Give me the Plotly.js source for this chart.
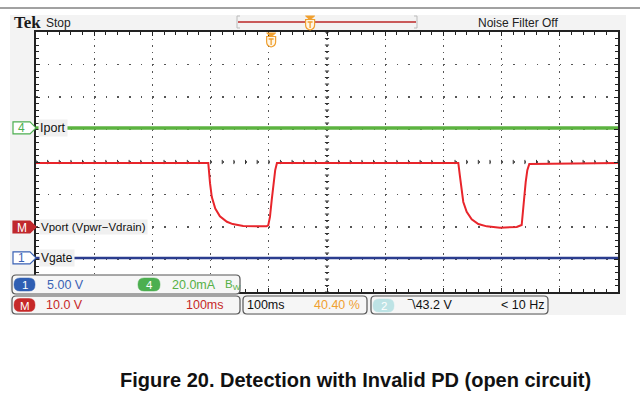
<!DOCTYPE html>
<html><head><meta charset="utf-8">
<script src="https://cdn.plot.ly/plotly-3.0.1.min.js"></script>
<style>html,body{margin:0;padding:0;background:#fff;}#chart{width:640px;height:394px;}</style>
</head><body><div id="chart"></div>
<script>
// ---- data (time in ms, 100 ms/div; levels in screen divisions) ----
const timeRangeMs = [0, 1000];
const divRange = [-4, 4];
const vportTimeMs = [0, 296, 299, 302, 308, 316, 328, 338, 356, 376, 396, 399, 402, 405, 408, 411, 414,
  725.6, 728.5, 731.4, 734.2, 740, 748.6, 760, 774.4, 797.3, 826, 834.5, 836.2, 838.5, 841.4, 844.2, 847.6, 1000];
const vportDiv = [-0.03, -0.03, -0.65, -1.07, -1.43, -1.67, -1.84, -1.91, -1.97, -1.98, -1.98, -1.95, -1.69, -1.17, -0.65, -0.25, -0.03,
  -0.03, -0.45, -0.86, -1.23, -1.53, -1.76, -1.91, -1.98, -2.02, -2.0, -1.94, -1.69, -1.17, -0.62, -0.25, -0.06, -0.03];
const iportTimeMs = [0, 1000];
const iportDiv = [1.05, 1.05];
const vgateTimeMs = [0, 1000];
const vgateDiv = [-2.95, -2.95];
const refLevelDiv = {iport: 1.05, vport: -2.0, vgate: -2.95};
const channelLabels = ['Iport', 'Vport (Vpwr\u2212Vdrain)', 'Vgate'];
const triggerPosPct = 40.40;
const statusTexts = {ch1: '5.00 V', ch4: '20.0mA', bw: 'B<sub>W</sub>', math: '10.0 V', mathTime: '100ms',
  timebase: '100ms', trigPos: '40.40 %', trigLevel: '\u203E\\43.2 V', freq: '< 10 Hz'};
const caption = 'Figure 20. Detection with Invalid PD (open circuit)';

// ---- layout helpers (pixel -> paper) ----
const L = 36, R = 618, T = 32, B = 292;
const X = p => (p - L) / (R - L);
const Y = p => (B - p) / (B - T);
const yPix = d => T + (divRange[1] - d) / (divRange[1] - divRange[0]) * (B - T);
const xPixT = ms => L + ms / timeRangeMs[1] * (R - L);
function rr(x0, y0, x1, y1, r) {
  return `M${X(x0+r)},${Y(y0)} L${X(x1-r)},${Y(y0)} Q${X(x1)},${Y(y0)} ${X(x1)},${Y(y0+r)} L${X(x1)},${Y(y1-r)} Q${X(x1)},${Y(y1)} ${X(x1-r)},${Y(y1)} L${X(x0+r)},${Y(y1)} Q${X(x0)},${Y(y1)} ${X(x0)},${Y(y1-r)} L${X(x0)},${Y(y0+r)} Q${X(x0)},${Y(y0)} ${X(x0+r)},${Y(y0)} Z`;
}
function poly(pts) { return 'M' + pts.map(p => `${X(p[0])},${Y(p[1])}`).join(' L') + ' Z'; }
function pshape(path, fill, line, lw) {
  return {type: 'path', xref: 'paper', yref: 'paper', path, fillcolor: fill || 'rgba(0,0,0,0)',
    line: {color: line || 'rgba(0,0,0,0)', width: lw || 0}, layer: 'above'};
}
const FONT = 'Liberation Sans, Arial, sans-serif';
function txt(text, px, py, color, size, anchor, extra) {
  return Object.assign({text, xref: 'paper', yref: 'paper', x: X(px), y: Y(py), xanchor: anchor || 'left', yanchor: 'middle',
    showarrow: false, font: {family: FONT, size: size || 12, color: color || '#111'}}, extra || {});
}

const shapes = [];
const annotations = [];
// screen background
shapes.push(Object.assign(pshape(poly([[10,15],[626,15],[626,315],[10,315]]), '#f3f3f3'), {layer: 'below'}));
shapes.push(Object.assign(pshape(poly([[L,T],[R,T],[R,B],[L,B]]), '#ffffff'), {layer: 'below'}));
// top rule
shapes.push({type: 'line', xref: 'paper', yref: 'paper', x0: X(0), x1: X(640), y0: Y(8), y1: Y(8), line: {color: '#444', width: 1}});
// record bar
shapes.push({type: 'line', xref: 'paper', yref: 'paper', x0: X(238), x1: X(416), y0: Y(22), y1: Y(22), line: {color: '#c95a5a', width: 2}});
shapes.push(pshape(`M${X(240)},${Y(16)} L${X(237)},${Y(16)} L${X(237)},${Y(28)} L${X(240)},${Y(28)}`, null, '#bbbbbb', 1));
shapes.push(pshape(`M${X(414)},${Y(16)} L${X(417)},${Y(16)} L${X(417)},${Y(28)} L${X(414)},${Y(28)}`, null, '#bbbbbb', 1));
function trigMarker(cx, yt) {
  const orange = '#f0a030';
  shapes.push(pshape(poly([[cx-4.5,yt],[cx+4.5,yt],[cx,yt+4]]), orange, orange, 1));
  shapes.push(pshape(`M${X(cx-4.5)},${Y(yt+3.5)} L${X(cx+4.5)},${Y(yt+3.5)} L${X(cx+4.5)},${Y(yt+9)} Q${X(cx+4.5)},${Y(yt+13)} ${X(cx)},${Y(yt+14)} Q${X(cx-4.5)},${Y(yt+13)} ${X(cx-4.5)},${Y(yt+9)} Z`, '#fff6e6', orange, 1.2));
  shapes.push(pshape(`M${X(cx-2.5)},${Y(yt+6)} L${X(cx+2.5)},${Y(yt+6)} M${X(cx)},${Y(yt+6)} L${X(cx)},${Y(yt+12)}`, null, orange, 1.3));
}
// record-bar marker: trigger position within the 238..416 px record bar
trigMarker(238 + 0.405 * (416 - 238), 16);
trigMarker(xPixT(triggerPosPct / 100 * timeRangeMs[1]), 33);

// center crosshair ticks (graticule)
let hp = '', vp = '';
for (let i = 0; i <= 50; i++) hp += `M${i*20},-0.065 L${i*20},0.065 `;
for (let j = 0; j <= 40; j++) { const d = -4 + j * 0.2; vp += `M496.4,${d.toFixed(2)} L503.6,${d.toFixed(2)} `; }
shapes.push({type: 'path', xref: 'x', yref: 'y', path: hp, line: {color: '#333', width: 1}, layer: 'below'});
shapes.push({type: 'path', xref: 'x', yref: 'y', path: vp, line: {color: '#333', width: 1}, layer: 'below'});

// channel markers
function chanMarker(level, fill, line, label, textColor) {
  const yc = yPix(level);
  shapes.push(pshape(poly([[13,yc-6],[30,yc-6],[36,yc],[30,yc+6],[13,yc+6]]), fill, line, 1.2));
  annotations.push(txt(label, 21.5, yc + 0.5, textColor, 12, 'center'));
}
chanMarker(refLevelDiv.iport, '#ffffff', '#4caf50', '4', '#4caf50');
chanMarker(refLevelDiv.vport, '#c0282d', '#c0282d', 'M', '#ffffff');
chanMarker(refLevelDiv.vgate, '#ffffff', '#3a62b5', '1', '#3a62b5');
annotations.push(Object.assign(txt(channelLabels[0], 38, yPix(refLevelDiv.iport), '#111', 12.5), {bgcolor: '#f0f0f0', borderpad: 1}));
annotations.push(Object.assign(txt(channelLabels[1], 39, yPix(refLevelDiv.vport), '#111', 11.5), {bgcolor: '#f0f0f0', borderpad: 1}));
annotations.push(Object.assign(txt(channelLabels[2], 39, yPix(refLevelDiv.vgate), '#111', 12), {bgcolor: '#f0f0f0', borderpad: 1}));

// header text
annotations.push(txt('Tek', 12, 23, '#1a1a1a', 17, 'left', {font: {family: 'Liberation Serif, serif', size: 17, color: '#1a1a1a', weight: 'bold'}}));
annotations.push(txt('Stop', 44, 23, '#222', 12));
annotations.push(txt('Noise Filter Off', 476, 23, '#222', 12));

// status boxes
[[12,275,240,294],[12,296,240,314],[243,296,367,314],[371,296,548,314]].forEach(b =>
  shapes.push(pshape(rr(b[0], b[1], b[2], b[3], 4), '#f6f6f6', '#555', 1.2)));
function pill(x0, y0, x1, y1, fill, label) {
  shapes.push(pshape(rr(x0, y0, x1, y1, 6), fill, fill, 0.5));
  annotations.push(txt(label, (x0 + x1) / 2, (y0 + y1) / 2 + 0.5, '#ffffff', 11.5, 'center'));
}
pill(14, 278, 35, 291, '#2f5fb3', '1');
pill(138, 278, 160, 291, '#4caf50', '4');
pill(14, 298.5, 35, 311.5, '#c62828', 'M');
pill(373, 299, 394, 312, '#bde3e5', '2');
annotations.push(txt(statusTexts.ch1, 45, 284.5, '#3a62b5', 12.5));
annotations.push(txt(statusTexts.ch4, 170, 284.5, '#55b045', 12.5));
annotations.push(txt(statusTexts.bw, 223, 284.5, '#55b045', 11.5));
annotations.push(txt(statusTexts.math, 44, 305, '#c62828', 12.5));
annotations.push(txt(statusTexts.mathTime, 226, 305, '#c62828', 12.5, 'right'));
annotations.push(txt(statusTexts.timebase, 245, 305, '#111', 12.5));
annotations.push(txt(statusTexts.trigPos, 362, 305, '#f0a030', 12.5, 'right'));
annotations.push(txt(statusTexts.trigLevel, 405, 305, '#111', 12.5));
annotations.push(txt(statusTexts.freq, 546, 305, '#111', 12.5, 'right'));

// caption
annotations.push(txt(caption, 355, 380, '#111', 20, 'center', {font: {family: FONT, size: 20, color: '#111', weight: 'bold'}}));

const traces = [
  {x: iportTimeMs, y: iportDiv, mode: 'lines', line: {color: '#5cb340', width: 3.5}, hoverinfo: 'skip'},
  {x: vgateTimeMs, y: vgateDiv, mode: 'lines', line: {color: '#2b3d8f', width: 2.5}, hoverinfo: 'skip'},
  {x: vportTimeMs, y: vportDiv, mode: 'lines', line: {color: '#e8252b', width: 2}, hoverinfo: 'skip'}
];
const axisCommon = {showticklabels: false, zeroline: false, showline: true, linecolor: '#222', linewidth: 2,
  mirror: 'ticks', ticks: 'inside', ticklen: 4, tickwidth: 1, tickcolor: '#222', showgrid: true, gridcolor: '#555', gridwidth: 1.2, fixedrange: true};
const layout = {
  width: 640, height: 394, margin: {l: L, r: 640 - R, t: T, b: 394 - B, pad: 0},
  paper_bgcolor: '#ffffff', plot_bgcolor: 'rgba(0,0,0,0)', showlegend: false,
  xaxis: Object.assign({}, axisCommon, {range: timeRangeMs, dtick: 100, tick0: 0, griddash: '1.5px,5px',
    minor: {dtick: 20, ticks: 'inside', ticklen: 3, tickcolor: '#222', showgrid: false}}),
  yaxis: Object.assign({}, axisCommon, {range: divRange, dtick: 1, tick0: 0, griddash: '1.5px,10.14px',
    minor: {dtick: 0.2, ticks: 'inside', ticklen: 3, tickcolor: '#222', showgrid: false}}),
  shapes, annotations
};
Plotly.newPlot('chart', traces, layout, {displayModeBar: false, staticPlot: true});
</script></body></html>
